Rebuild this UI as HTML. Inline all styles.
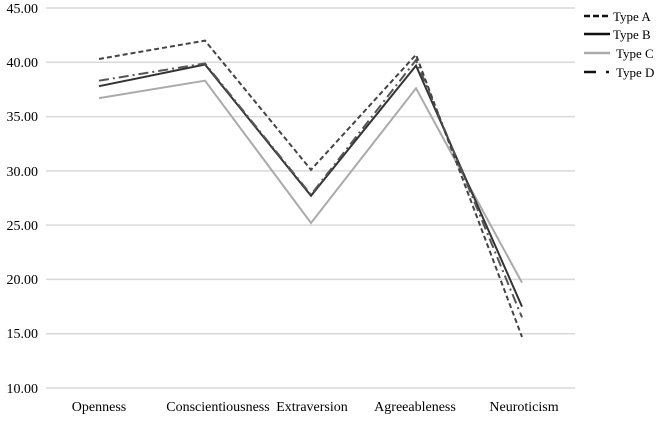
<!DOCTYPE html>
<html><head><style>body{margin:0;background:#fff}</style></head><body>
<svg width="667" height="416" xmlns="http://www.w3.org/2000/svg" font-family="Liberation Serif, serif" font-size="14" fill="#000">
<g stroke="#d9d9d9" stroke-width="1.5">
<line x1="46" y1="8" x2="575" y2="8"/><line x1="46" y1="62.3" x2="575" y2="62.3"/>
<line x1="46" y1="116.6" x2="575" y2="116.6"/><line x1="46" y1="170.9" x2="575" y2="170.9"/>
<line x1="46" y1="225.1" x2="575" y2="225.1"/><line x1="46" y1="279.4" x2="575" y2="279.4"/>
<line x1="46" y1="333.7" x2="575" y2="333.7"/><line x1="46" y1="388" x2="575" y2="388"/>
</g>
<g text-anchor="end">
<text x="38" y="13">45.00</text><text x="38" y="67">40.00</text><text x="38" y="121">35.00</text>
<text x="38" y="176">30.00</text><text x="38" y="230">25.00</text><text x="38" y="284">20.00</text>
<text x="38" y="338">15.00</text><text x="38" y="393">10.00</text>
</g>
<g text-anchor="middle">
<text x="99" y="411">Openness</text><text x="218" y="411">Conscientiousness</text>
<text x="312" y="411">Extraversion</text><text x="415" y="411">Agreeableness</text>
<text x="524" y="411">Neuroticism</text>
</g>
<g fill="none" stroke-width="2">
<polyline stroke="#aaa" points="99,98.1 205,80.7 311,223 416,88.3 522,282.7"/>
<polyline stroke="#333" points="99,86.2 205,64.5 311,195.8 416,65.6 522,306.6"/>
<polyline stroke="#555" stroke-dasharray="10,4,2,4" points="99,80.7 205,63.4 311,194.7 416,60.1 522,317.4"/>
<polyline stroke="#444" stroke-dasharray="5,3" points="99,59 205,40.6 311,169.8 416,54.7 522,337"/>
</g>
<g stroke-width="2.5">
<line x1="584" y1="16" x2="610" y2="16" stroke="#111" stroke-dasharray="6,3"/>
<line x1="584" y1="34" x2="610" y2="34" stroke="#111"/>
<line x1="584" y1="53" x2="610" y2="53" stroke="#aaa"/>
<line x1="584" y1="72" x2="596" y2="72" stroke="#111"/><line x1="606" y1="72" x2="609" y2="72" stroke="#111"/>
</g>
<g font-size="13">
<text x="613" y="21">Type A</text><text x="613" y="39">Type B</text>
<text x="616" y="58">Type C</text><text x="616" y="77">Type D</text>
</g>
</svg>
</body></html>
